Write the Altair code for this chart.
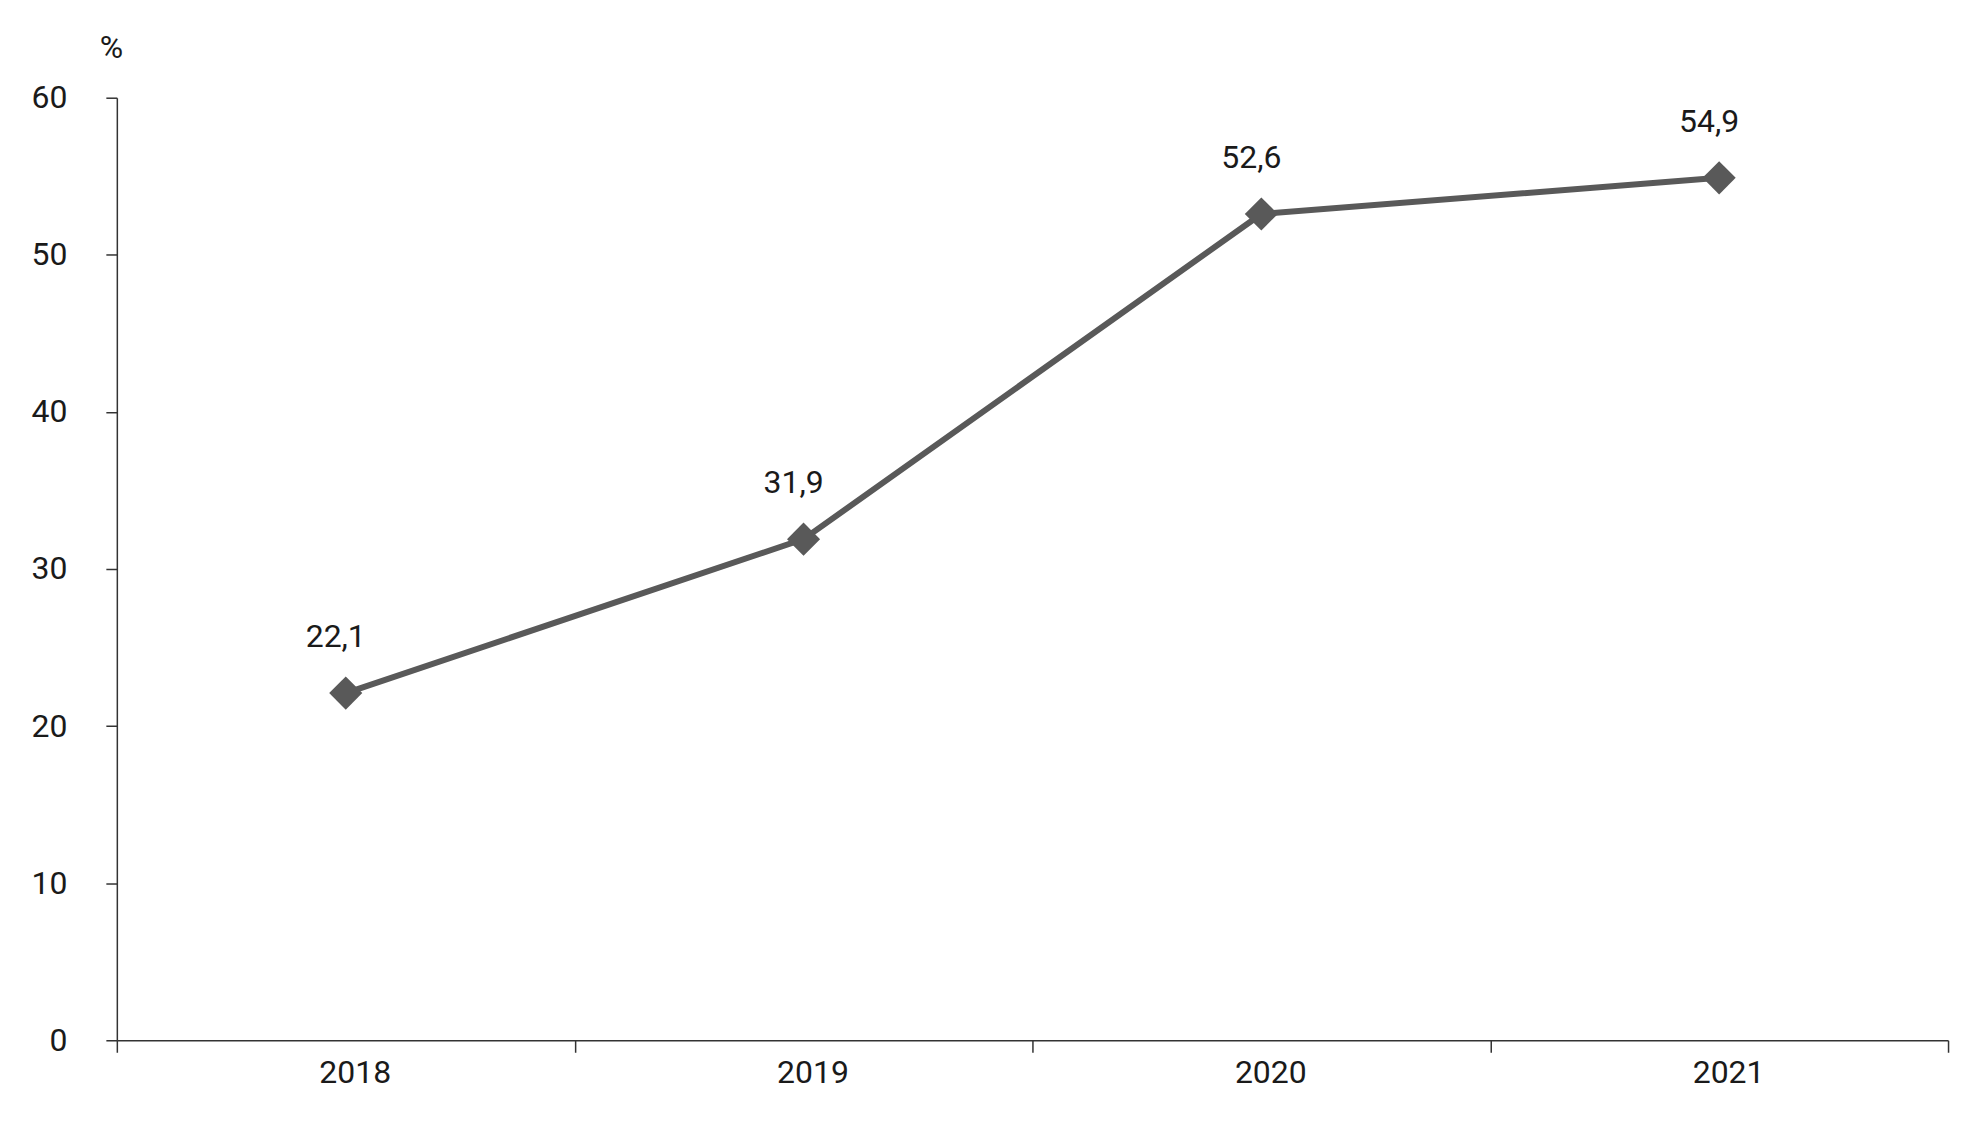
import altair as alt
import pandas as pd

years = ["2018", "2019", "2020", "2021"]
values = [22.1, 31.9, 52.6, 54.9]
labels = [f"{v:.1f}".replace(".", ",") for v in values]

df = pd.DataFrame({"year": years, "value": values, "label": labels})

FONT = "Roboto"
FS = 32
LINE = "#595959"
AX = "#333333"
TXT = "#1a1a1a"

x = alt.X(
    "year:N",
    scale=alt.Scale(type="band", paddingInner=0, paddingOuter=0),
    axis=alt.Axis(
        title=None,
        labelAngle=0,
        tickBand="extent",
        tickSize=12,
        tickColor=AX,
        tickWidth=1.5,
        domainColor=AX,
        domainWidth=1.5,
        labelFont=FONT,
        labelFontSize=FS,
        labelColor=TXT,
        labelPadding=5,
        labelOffset=9,
        grid=False,
    ),
)

y = alt.Y(
    "value:Q",
    scale=alt.Scale(domain=[0, 60], nice=False),
    axis=alt.Axis(
        values=[0, 10, 20, 30, 40, 50, 60],
        title="%",
        titleAngle=0,
        titleAlign="center",
        titleBaseline="alphabetic",
        titleX=-6,
        titleY=-40,
        titleFont=FONT,
        titleFontSize=32,
        titleFontWeight="normal",
        titleColor=TXT,
        tickSize=11,
        tickColor=AX,
        tickWidth=1.5,
        domainColor=AX,
        domainWidth=1.5,
        labelFont=FONT,
        labelFontSize=FS,
        labelColor=TXT,
        labelPadding=39,
        grid=False,
    ),
)

base = alt.Chart(df)

line = base.mark_line(color=LINE, strokeWidth=6).encode(x=x, y=y)
pts = base.mark_point(shape="diamond", filled=True, size=1100, color=LINE, opacity=1).encode(x=x, y=y)
txt = base.mark_text(
    font=FONT, fontSize=FS, color=TXT, baseline="alphabetic", dy=-46, dx=-10
).encode(x=x, y=y, text="label:N")

chart = (
    alt.layer(line, pts, txt)
    .properties(
        width=1834,
        height=944,
        autosize=alt.AutoSizeParams(type="none"),
        padding={"left": 109, "top": 89, "right": 30, "bottom": 80},
        view=alt.ViewBackground(stroke="transparent", strokeWidth=0),
    )
    .configure_view(strokeWidth=0, stroke="transparent")
    .configure(background="white")
)

chart.save("out.html", embed_options={"renderer": "svg", "actions": False})
